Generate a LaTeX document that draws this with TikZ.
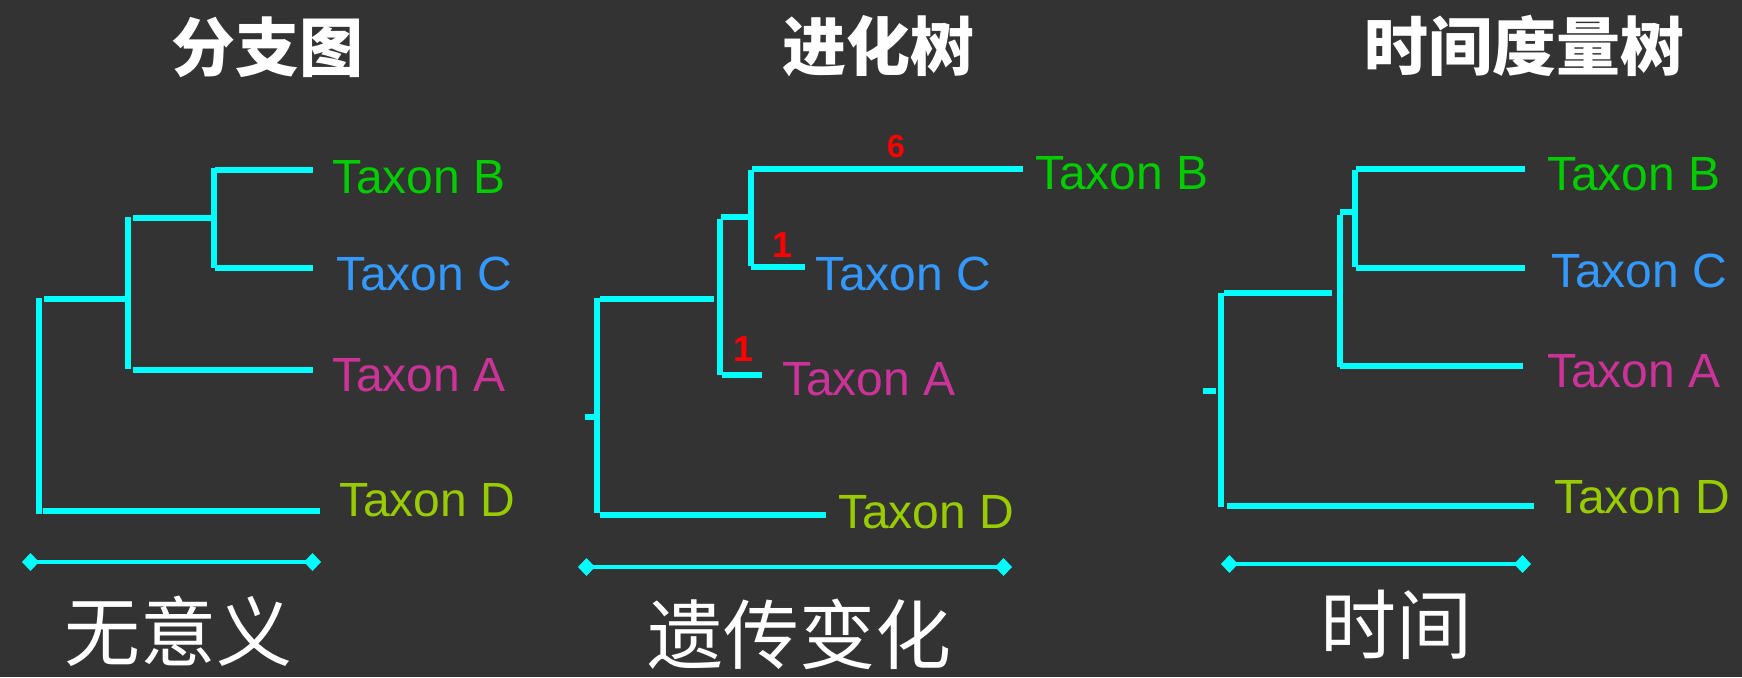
\documentclass[tikz,border=0pt]{standalone}
\usepackage{fontspec}
\setmainfont{Liberation Sans}
\newfontfamily\cjk{Noto Sans CJK SC}
\usetikzlibrary{arrows.meta}
\definecolor{bg}{HTML}{333333}
\definecolor{cy}{HTML}{00FFFF}
\definecolor{tB}{HTML}{00CC00}
\definecolor{tC}{HTML}{3399FF}
\definecolor{tA}{HTML}{CC3399}
\definecolor{tD}{HTML}{99CC00}
\definecolor{rd}{HTML}{FF0000}
\tikzset{
  br/.style={draw=cy, line width=6pt, line cap=butt},
  sbar/.style={draw=cy, line width=4pt, {Diamond[length=17pt,width=18pt]}-{Diamond[length=17pt,width=18pt]}},
  taxon/.style={anchor=base west, inner sep=0pt, font=\fontsize{48}{52}\selectfont},
  num/.style={anchor=base, inner sep=0pt, text=rd, font=\fontsize{36}{40}\selectfont\bfseries},
  ttl/.style={inner sep=0pt, text=white, font=\fontsize{64}{70}\selectfont\cjk\bfseries},
  sub/.style={inner sep=0pt, text=white, font=\fontsize{76}{80}\selectfont\cjk},
}
\begin{document}
\begin{tikzpicture}[x=1pt,y=-1pt]
\useasboundingbox (0,0) rectangle (1742,677);
\fill[bg] (0,0) rectangle (1742,677);
% titles
\node[ttl] (t1) at (267,47) {分支图};
\node[ttl] (t2) at (878,46) {进化树};
\node[ttl] (t3) at (1524,46) {时间度量树};
% bottom labels
\node[sub] (s1) at (178,631) {无意义};
\node[sub] (s2) at (799,634) {遗传变化};
\node[sub] (s3) at (1396,625) {时间};

% ---------- panel 1
\node[taxon, text=tB] (aB) at (332,193) {Taxon B};
\node[taxon, text=tC] (aC) at (336,290) {Taxon C};
\node[taxon, text=tA] (aA) at (332,391) {Taxon A};
\node[taxon, text=tD] (aD) at (339,516) {Taxon D};
\draw[br] (38.5,298) -- (38.5,514);
\draw[br] (44,299) -- (125,299);
\draw[br] (43,511) -- (320,511);
\draw[br] (127.5,217) -- (127.5,369);
\draw[br] (133,218) -- (214,218);
\draw[br] (133,370) -- (312.5,370);
\draw[br] (214,168) -- (214,268);
\draw[br] (215,170) -- (312.5,170);
\draw[br] (215,268) -- (312.5,268);
\coordinate (a1) at (22,562); \coordinate (a2) at (321,562);
\draw[sbar] (a1) -- (a2);

% ---------- panel 2
\node[taxon, text=tB] (bB) at (1035,189) {Taxon B};
\node[taxon, text=tC] (bC) at (815,290) {Taxon C};
\node[taxon, text=tA] (bA) at (782,395) {Taxon A};
\node[taxon, text=tD] (bD) at (838,528) {Taxon D};
\draw[br] (585,417) -- (595,417);
\draw[br] (597,298) -- (597,513);
\draw[br] (600,299) -- (714,299);
\draw[br] (600,515) -- (826,515);
\draw[br] (720,219) -- (720,375);
\draw[br] (721,217) -- (749,217);
\draw[br] (722,375) -- (762,375);
\draw[br] (751,170) -- (751,266);
\draw[br] (752,169) -- (1023,169);
\draw[br] (751,267) -- (805,267);
\node[num, font=\fontsize{32}{36}\selectfont\bfseries] (n6) at (896,157) {6};
\node[num] (n1c) at (782,257) {1};
\node[num] (n1a) at (744,361) {1};
\coordinate (b1) at (578,567); \coordinate (b2) at (1012,567);
\draw[sbar] (b1) -- (b2);

% ---------- panel 3
\node[taxon, text=tB] (cB) at (1547,190) {Taxon B};
\node[taxon, text=tC] (cC) at (1551,287) {Taxon C};
\node[taxon, text=tA] (cA) at (1547,387) {Taxon A};
\node[taxon, text=tD] (cD) at (1554,513) {Taxon D};
\draw[br] (1203,391) -- (1216,391);
\draw[br] (1221,293) -- (1221,507);
\draw[br] (1224,293) -- (1332,293);
\draw[br] (1227,506) -- (1534,506);
\draw[br] (1339.5,215) -- (1339.5,367);
\draw[br] (1339.5,212) -- (1352,212);
\draw[br] (1354.5,170) -- (1354.5,267);
\draw[br] (1356,169) -- (1525,169);
\draw[br] (1356,268) -- (1525,268);
\draw[br] (1340,366) -- (1523,366);
\coordinate (c1) at (1221,564); \coordinate (c2) at (1531,564);
\draw[sbar] (c1) -- (c2);
\end{tikzpicture}
\end{document}
